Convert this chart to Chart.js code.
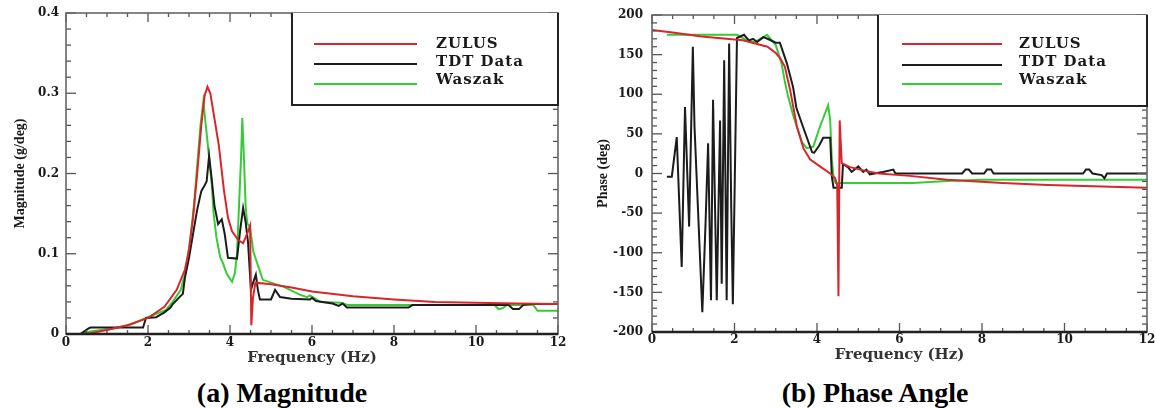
<!DOCTYPE html>
<html>
<head>
<meta charset="utf-8">
<script src="https://cdn.jsdelivr.net/npm/chart.js@4.4.1/dist/chart.umd.min.js"></script>
<style>
    html, body { margin: 0; padding: 0; background: #fff; }
    body { width: 1156px; height: 408px; position: relative; overflow: hidden; }
    .panel { position: absolute; top: 0; width: 578px; height: 370px; }
    #magPanel { left: 0; }
    #phasePanel { left: 578px; }
    .caption {
        position: absolute; top: 377px; width: 400px; line-height: 32px;
        text-align: center; color: #000;
        font: bold 28px "Liberation Serif", "Times New Roman", serif;
    }
</style>
</head>
<body>
<div class="panel" id="magPanel"><canvas id="magChart"></canvas></div>
<div class="panel" id="phasePanel"><canvas id="phaseChart"></canvas></div>
<div class="caption" style="left:82px">(a) Magnitude</div>
<div class="caption" style="left:675px">(b) Phase Angle</div>
<script>
// Frequency response: magnitude (g/deg) and phase (deg) vs frequency (Hz)
const seriesNames = ['ZULUS', 'TDT Data', 'Waszak'];

// --- magnitude ---
const zulusMagFreq = [0.4, 0.6, 1.0, 1.5, 2.0, 2.4, 2.7, 2.9, 3.0, 3.1, 3.2, 3.3, 3.38, 3.45, 3.52, 3.6, 3.73, 3.85, 3.95, 4.05, 4.2, 4.32, 4.44, 4.49, 4.52, 4.56, 4.62, 5.0, 5.5, 6.0, 7.0, 8.0, 9.0, 10.0, 11.0, 12.0];
const zulusMag = [0, 0.001, 0.005, 0.011, 0.02, 0.034, 0.055, 0.08, 0.105, 0.145, 0.2, 0.26, 0.297, 0.308, 0.3, 0.275, 0.234, 0.18, 0.145, 0.128, 0.117, 0.113, 0.128, 0.135, 0.011, 0.045, 0.064, 0.062, 0.058, 0.053, 0.047, 0.043, 0.040, 0.039, 0.038, 0.0375];

const tdtMagFreq = [0.35, 0.55, 0.6, 1.88, 1.95, 2.2, 2.4, 2.55, 2.6, 2.75, 2.85, 2.9, 3.0, 3.1, 3.2, 3.3, 3.38, 3.43, 3.49, 3.55, 3.62, 3.71, 3.8, 3.87, 3.95, 4.17, 4.25, 4.32, 4.38, 4.44, 4.51, 4.57, 4.63, 4.68, 4.73, 5.0, 5.1, 5.22, 5.5, 5.95, 6.0, 6.1, 6.5, 6.65, 6.75, 6.85, 8.35, 8.45, 10.8, 10.9, 11.05, 11.15, 11.3, 12.0];
const tdtMag = [0, 0.007, 0.008, 0.008, 0.02, 0.021, 0.027, 0.033, 0.037, 0.045, 0.05, 0.07, 0.095, 0.125, 0.155, 0.178, 0.185, 0.19, 0.222, 0.195, 0.16, 0.137, 0.143, 0.125, 0.095, 0.094, 0.13, 0.157, 0.14, 0.114, 0.055, 0.065, 0.074, 0.055, 0.043, 0.043, 0.055, 0.046, 0.044, 0.043, 0.045, 0.041, 0.038, 0.035, 0.038, 0.033, 0.033, 0.036, 0.036, 0.031, 0.031, 0.036, 0.0375, 0.0375];

const waszakMagFreq = [0.35, 0.6, 1.2, 1.6, 1.95, 2.2, 2.44, 2.6, 2.8, 2.93, 3.05, 3.12, 3.2, 3.28, 3.35, 3.45, 3.56, 3.6, 3.67, 3.76, 3.83, 3.92, 4.05, 4.12, 4.17, 4.22, 4.27, 4.3, 4.34, 4.38, 4.42, 4.49, 4.57, 4.8, 5.3, 5.7, 5.88, 5.95, 6.2, 6.7, 6.88, 10.45, 10.55, 10.65, 10.75, 11.4, 11.5, 12.0];
const waszakMag = [0, 0.003, 0.0075, 0.012, 0.02, 0.025, 0.03, 0.04, 0.055, 0.08, 0.126, 0.16, 0.21, 0.26, 0.29, 0.24, 0.184, 0.15, 0.12, 0.096, 0.088, 0.075, 0.065, 0.076, 0.1, 0.16, 0.22, 0.269, 0.22, 0.16, 0.138, 0.133, 0.1025, 0.0675, 0.059, 0.049, 0.046, 0.048, 0.04, 0.039, 0.036, 0.036, 0.031, 0.032, 0.036, 0.036, 0.029, 0.029];

// --- phase ---
const zulusPhaseFreq = [0, 0.5, 1.2, 1.8, 2.2, 2.5, 2.8, 3.0, 3.1, 3.22, 3.35, 3.51, 3.67, 3.83, 4.07, 4.32, 4.44, 4.49, 4.52, 4.55, 4.6, 4.8, 5.2, 5.5, 6.25, 7.15, 8.5, 9.6, 12.0];
const zulusPhase = [181, 178, 173, 170, 168, 164, 160, 152, 146, 135, 105, 60, 32, 18, 9, 0, -6, -15, -155, 67, 13, 8, 3, 0, -3, -8, -12, -14.5, -18];

const tdtPhaseFreq = [0.36, 0.48, 0.6, 0.72, 0.8, 0.9, 0.99, 1.03, 1.22, 1.3, 1.36, 1.43, 1.48, 1.57, 1.65, 1.69, 1.75, 1.81, 1.87, 1.92, 1.96, 2.06,
    2.23, 2.35, 2.45, 2.55, 2.7, 2.8, 3.0, 3.1, 3.27, 3.42, 3.5, 3.66, 3.88, 3.93, 4.05, 4.15, 4.32, 4.36, 4.4, 4.6, 4.63,
    4.75, 4.84, 5.0, 5.12, 5.2, 5.28, 5.6, 5.85, 5.9, 7.52, 7.6, 7.68, 7.76, 8.05, 8.12, 8.22, 8.28, 10.45, 10.52, 10.6, 10.68, 10.9, 10.97, 11.03, 12.0];
const tdtPhase = [-4, -4, 46, -118, 84, -67, 160, 60, -175, -60, 38, -160, 93, -160, 67, -139, 143, -160, 164, -40, -165, 171,
    175, 168, 170, 166, 172, 170, 165, 165, 139, 109, 83, 59, 27, 26, 35, 45, 45, -4, -18, -18, 12,
    8, 2, 9, 2, 5, -1, 2, 5, 0, 0, 5, 5, 0, 0, 5, 5, 0, 0, 5, 5, 0, -2, -6, 0, 0];

const waszakPhaseFreq = [0.36, 2.06, 2.3, 2.5, 2.79, 3.0, 3.14, 3.22, 3.3, 3.43, 3.63, 3.75, 3.91, 4.07, 4.27, 4.32, 4.36, 4.4, 4.45, 6.33, 7.15, 8.0, 12.0];
const waszakPhase = [175, 175, 168, 166, 175, 162, 139, 116, 97, 72, 40, 32, 34, 59, 86, 67, 17, -4, -12, -12, -9.5, -8, -8];

const colors = {
    zulus: '#d8262b',
    tdt: '#1c1c1c',
    waszak: '#36cc36',
    frame: '#666',
    text: '#1a1a1a'
};

function series(label, freq, vals, color) {
    return {
        label: label,
        data: freq.map((f, i) => ({ x: f, y: vals[i] })),
        borderColor: color,
        borderWidth: 2,
        pointRadius: 0,
        tension: 0,
        fill: false
    };
}

const tickFont = { family: 'DejaVu Serif', weight: 'bold', size: 12 };

// Boxed frame with inward major/minor ticks on all four sides, plus the boxed legend
const framePlugin = {
    id: 'frame',
    afterDatasetsDraw(chart, args, opts) {
        const { ctx, chartArea: a, scales: { x, y } } = chart;
        ctx.save();
        const line = (x1, y1, x2, y2) => {
            ctx.beginPath(); ctx.moveTo(x1, y1); ctx.lineTo(x2, y2); ctx.stroke();
        };
        ctx.strokeStyle = '#555';
        ctx.lineWidth = 1.3;
        let n = Math.round((x.max - x.min) / opts.minorX);
        for (let i = 0; i <= n; i++) {
            const v = x.min + i * opts.minorX;
            const px = x.getPixelForValue(v);
            const major = Math.abs(v / opts.majorX - Math.round(v / opts.majorX)) < 1e-6;
            const len = major ? 9 : 4;
            line(px, a.bottom, px, a.bottom - len);
            line(px, a.top, px, a.top + len);
        }
        n = Math.round((y.max - y.min) / opts.minorY);
        for (let i = 0; i <= n; i++) {
            const v = y.min + i * opts.minorY;
            const py = y.getPixelForValue(v);
            const major = Math.abs((v - y.min) / opts.majorY - Math.round((v - y.min) / opts.majorY)) < 1e-6;
            const len = major ? 10 : 5;
            line(a.left, py, a.left + len, py);
            line(a.right, py, a.right - len, py);
        }
        // frame
        ctx.strokeStyle = colors.frame;
        ctx.lineWidth = 1.6;
        ctx.strokeRect(a.left, a.top, a.width, a.height);
        ctx.strokeStyle = '#222';
        ctx.lineWidth = 2.4;
        line(a.left, a.bottom, a.right, a.bottom);

        // legend box
        const lg = opts.legend;
        ctx.fillStyle = '#fff';
        ctx.fillRect(lg.left, a.top, a.right - lg.left, lg.bottom - a.top);
        ctx.strokeStyle = '#222';
        ctx.lineWidth = 2;
        ctx.beginPath();
        ctx.moveTo(lg.left, a.top);
        ctx.lineTo(lg.left, lg.bottom);
        ctx.lineTo(a.right, lg.bottom);
        ctx.lineTo(a.right, a.top);
        ctx.stroke();
        ctx.font = 'bold 15px "DejaVu Serif"';
        ctx.letterSpacing = '1px';
        ctx.textBaseline = 'middle';
        ctx.textAlign = 'left';
        chart.data.datasets.forEach((ds, i) => {
            ctx.strokeStyle = ds.borderColor;
            ctx.lineWidth = 1.8;
            line(lg.lineStart, lg.lineY[i], lg.lineEnd, lg.lineY[i]);
            ctx.fillStyle = colors.text;
            ctx.fillText(ds.label, lg.textX, lg.textY[i]);
        });
        ctx.restore();
    }
};

function buildOptions(cfg) {
    return {
        responsive: true,
        maintainAspectRatio: false,
        animation: false,
        layout: { padding: { top: cfg.padTop, right: cfg.padRight, left: 0, bottom: 0 } },
        plugins: {
            legend: { display: false },
            tooltip: { enabled: false },
            frame: cfg.frame
        },
        scales: {
            x: {
                type: 'linear',
                min: 0,
                max: 12,
                grid: { display: false, drawTicks: false },
                border: { display: false },
                ticks: { stepSize: 2, padding: cfg.xTickPad, color: colors.text, font: tickFont },
                title: {
                    display: true,
                    text: 'Frequency (Hz)',
                    color: '#333',
                    font: { family: 'DejaVu Serif', weight: 'bold', size: 15 },
                    padding: { top: 0, bottom: cfg.xTitlePad }
                },
                afterFit(scale) {
                    scale.height = cfg.xHeight;
                    scale.paddingLeft = 0;
                    scale.paddingRight = 0;
                }
            },
            y: {
                type: 'linear',
                min: cfg.yMin,
                max: cfg.yMax,
                grid: { display: false, drawTicks: false },
                border: { display: false },
                ticks: { stepSize: cfg.yStep, padding: cfg.yTickPad, color: colors.text, font: tickFont },
                title: {
                    display: true,
                    text: cfg.yTitle,
                    color: colors.text,
                    font: { family: 'Liberation Serif', weight: 'bold', size: 14 },
                    padding: { top: cfg.yTitlePad, bottom: 0 }
                },
                afterFit(scale) {
                    scale.width = cfg.yWidth;
                    scale.paddingTop = 0;
                    scale.paddingBottom = 0;
                }
            }
        }
    };
}

new Chart(document.getElementById('magChart'), {
    type: 'line',
    data: {
        datasets: [
            series(seriesNames[0], zulusMagFreq, zulusMag, colors.zulus),
            series(seriesNames[1], tdtMagFreq, tdtMag, colors.tdt),
            series(seriesNames[2], waszakMagFreq, waszakMag, colors.waszak)
        ]
    },
    options: buildOptions({
        padTop: 13, padRight: 20, xHeight: 36, yWidth: 66,
        yMin: 0, yMax: 0.4, yStep: 0.1,
        yTitle: 'Magnitude (g/deg)',
        xTickPad: 2, xTitlePad: 3, yTickPad: 7, yTitlePad: 12,
        frame: {
            majorX: 2, minorX: 0.5, majorY: 0.1, minorY: 0.02,
            legend: {
                left: 292, bottom: 105,
                lineStart: 314, lineEnd: 417, lineY: [44, 64, 84],
                textX: 436, textY: [44, 62, 80]
            }
        }
    }),
    plugins: [framePlugin]
});

new Chart(document.getElementById('phaseChart'), {
    type: 'line',
    data: {
        datasets: [
            series(seriesNames[0], zulusPhaseFreq, zulusPhase, colors.zulus),
            series(seriesNames[1], tdtPhaseFreq, tdtPhase, colors.tdt),
            series(seriesNames[2], waszakPhaseFreq, waszakPhase, colors.waszak)
        ]
    },
    options: buildOptions({
        padTop: 15, padRight: 9, xHeight: 38, yWidth: 74,
        yMin: -200, yMax: 200, yStep: 50,
        yTitle: 'Phase (deg)',
        xTickPad: 1, xTitlePad: 6, yTickPad: 9, yTitlePad: 17,
        frame: {
            majorX: 2, minorX: 0.5, majorY: 50, minorY: 10,
            legend: {
                left: 300, bottom: 106,
                lineStart: 324, lineEnd: 424, lineY: [44, 65, 84],
                textX: 441, textY: [44, 62, 80]
            }
        }
    }),
    plugins: [framePlugin]
});
</script>
</body>
</html>
